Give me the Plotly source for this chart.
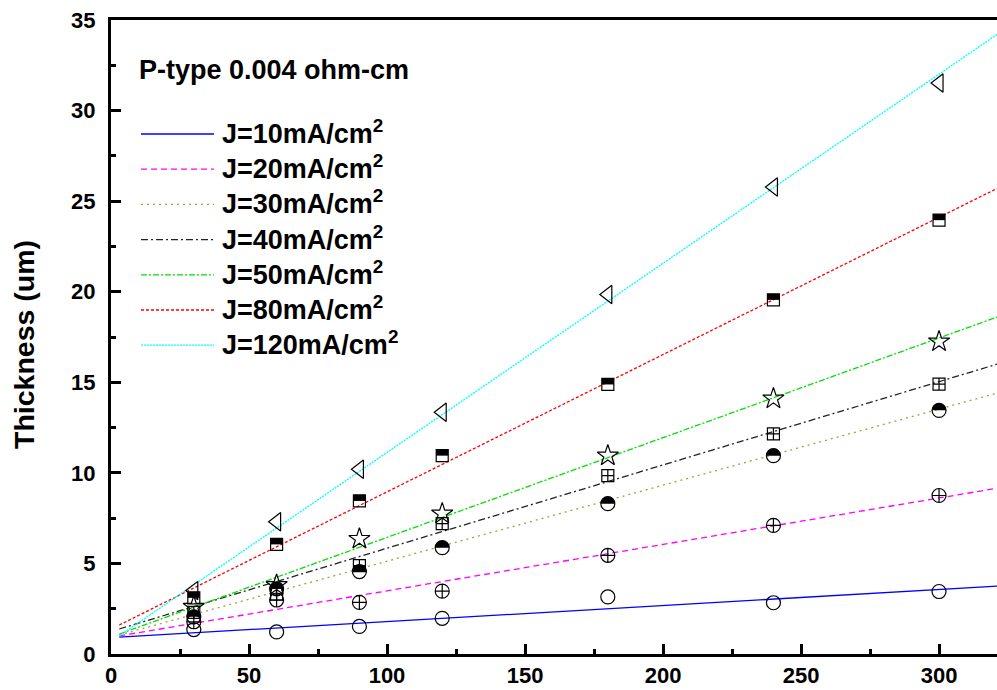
import numpy as np
import plotly.graph_objects as go

# ---------------- data ----------------
time_s = [30, 60, 90, 120, 180, 240, 300]
series_names = ["J=10mA/cm<sup>2</sup>", "J=20mA/cm<sup>2</sup>", "J=30mA/cm<sup>2</sup>",
                "J=40mA/cm<sup>2</sup>", "J=50mA/cm<sup>2</sup>", "J=80mA/cm<sup>2</sup>",
                "J=120mA/cm<sup>2</sup>"]
j10 = [1.35, 1.22, 1.52, 1.97, 3.15, 2.83, 3.45]
j20 = [1.78, 2.98, 2.85, 3.47, 5.45, 7.10, 8.75]
j30 = [2.05, 3.60, 4.55, 5.87, 8.30, 10.95, 13.45]
j40 = [2.30, 3.30, 4.88, 7.20, 9.85, 12.15, 14.90]
j50 = [2.60, 3.80, 6.35, 7.75, 10.95, 14.10, 17.25]
j80 = [3.10, 6.05, 8.45, 10.95, 14.88, 19.55, 23.95]
j120 = [3.50, 7.30, 10.20, 13.35, 19.85, 25.78, 31.52]
series_values = [j10, j20, j30, j40, j50, j80, j120]
# linear fit lines: thickness at start and end x
fit_x = [3, 321]
fit_start = [0.93, 1.00, 1.05, 1.38, 1.10, 1.60, 1.00]
fit_end = [3.75, 9.15, 14.40, 16.00, 18.60, 25.70, 34.20]
x_ticks = [0, 50, 100, 150, 200, 250, 300]
y_ticks = [0, 5, 10, 15, 20, 25, 30, 35]
annotation_title = "P-type 0.004 ohm-cm"
y_title = "Thickness (um)"

# ---------------- styles ----------------
W, H = 997, 690
ML, MR, MT, MB = 111, 0, 20, 36
XR = [0, 321]
YR = [0, 35]
PW, PH = W - ML - MR, H - MT - MB
ux = (XR[1] - XR[0]) / PW
uy = (YR[1] - YR[0]) / PH

colors = ["#0000FF", "#FF00FF", "#A0A040", "#222222", "#00E000", "#FF0000", "#00FFFF"]
dashes = ["solid", "6px,4px", "2px,4px", "7px,3px,2px,3px", "6px,2px,2px,2px", "3px,2px", "2px,1px"]
symbols = ["circle-open", "circle-cross-open", "circle-open", "square-cross-open",
           "star-open", "square-open", "triangle-left-open"]
msizes = [14, 14, 14, 12, 16, 12, 16]
FONT = "Liberation Sans, Arial, sans-serif"

fig = go.Figure()

for i in range(len(series_names)):
    fig.add_trace(go.Scatter(x=fit_x, y=[fit_start[i], fit_end[i]], mode="lines",
                             line=dict(color=colors[i], width=1.3, dash=dashes[i]),
                             showlegend=False, hoverinfo="skip"))

for i in range(len(series_names)):
    fig.add_trace(go.Scatter(x=time_s, y=series_values[i], mode="markers",
                             marker=dict(symbol=symbols[i], size=msizes[i], color="black",
                                         line=dict(color="black", width=1.2)),
                             showlegend=False))

shapes = []
# half-filled markers (top half black)
for xv, yv in zip(time_s, j80):
    shapes.append(dict(type="rect", xref="x", yref="y",
                       x0=xv - 6 * ux, x1=xv + 6 * ux, y0=yv, y1=yv + 6 * uy,
                       fillcolor="black", line=dict(width=0)))
ang = np.linspace(0, np.pi, 17)
for xv, yv in zip(time_s, j30):
    pts = [(xv + 7 * ux * np.cos(a), yv + 7 * uy * np.sin(a)) for a in ang]
    path = "M " + " L ".join(f"{px:.4f},{py:.4f}" for px, py in pts) + " Z"
    shapes.append(dict(type="path", xref="x", yref="y", path=path,
                       fillcolor="black", line=dict(width=0)))

def pxx(p):
    return (p - ML) / PW

def pxy(p):
    return (H - MB - p) / PH

annotations = []
# manual legend
leg_y0, leg_dy = 134, 35.2
for i, name in enumerate(series_names):
    yy = leg_y0 + i * leg_dy
    shapes.append(dict(type="line", xref="paper", yref="paper",
                       x0=pxx(141), x1=pxx(214), y0=pxy(yy), y1=pxy(yy),
                       line=dict(color=colors[i], width=1.3, dash=dashes[i])))
    annotations.append(dict(xref="paper", yref="paper", x=pxx(220), y=pxy(yy - 2),
                            xanchor="left", yanchor="middle", showarrow=False,
                            text="<b>" + name + "</b>",
                            font=dict(family=FONT, size=27, color="black")))

annotations.append(dict(xref="paper", yref="paper", x=pxx(137), y=pxy(70),
                        xanchor="left", yanchor="middle", showarrow=False,
                        text="<b>" + annotation_title + "</b>",
                        font=dict(family=FONT, size=27, color="black")))
annotations.append(dict(xref="paper", yref="paper", x=pxx(24), y=pxy(345),
                        xanchor="center", yanchor="middle", showarrow=False, textangle=-90,
                        text="<b>" + y_title + "</b>",
                        font=dict(family=FONT, size=28.5, color="black")))

fig.update_layout(
    width=W, height=H,
    margin=dict(l=ML, r=MR, t=MT, b=MB, pad=0),
    paper_bgcolor="white", plot_bgcolor="white",
    showlegend=False,
    shapes=shapes, annotations=annotations,
    font=dict(family=FONT, color="black"),
)
fig.update_xaxes(range=XR, tickvals=x_ticks, ticktext=[str(v) for v in x_ticks],
                 showgrid=False, zeroline=False, showline=True, linewidth=3, linecolor="black",
                 mirror=True, ticks="inside", ticklen=10, tickwidth=3, tickcolor="black",
                 tickfont=dict(family=FONT, size=22, color="black", weight="bold"),
                 minor=dict(ticks="inside", ticklen=5, tickwidth=3, tickcolor="black",
                            dtick=25, tick0=0, showgrid=False))
fig.update_yaxes(range=YR, tickvals=y_ticks, ticktext=[str(v) for v in y_ticks],
                 showgrid=False, zeroline=False, showline=True, linewidth=3, linecolor="black",
                 mirror=False, ticks="inside", ticklen=10, tickwidth=3, tickcolor="black",
                 ticklabelstandoff=8,
                 tickfont=dict(family=FONT, size=22, color="black", weight="bold"),
                 minor=dict(ticks="inside", ticklen=5, tickwidth=3, tickcolor="black",
                            dtick=2.5, tick0=0, showgrid=False))

fig.write_html("out.html")
